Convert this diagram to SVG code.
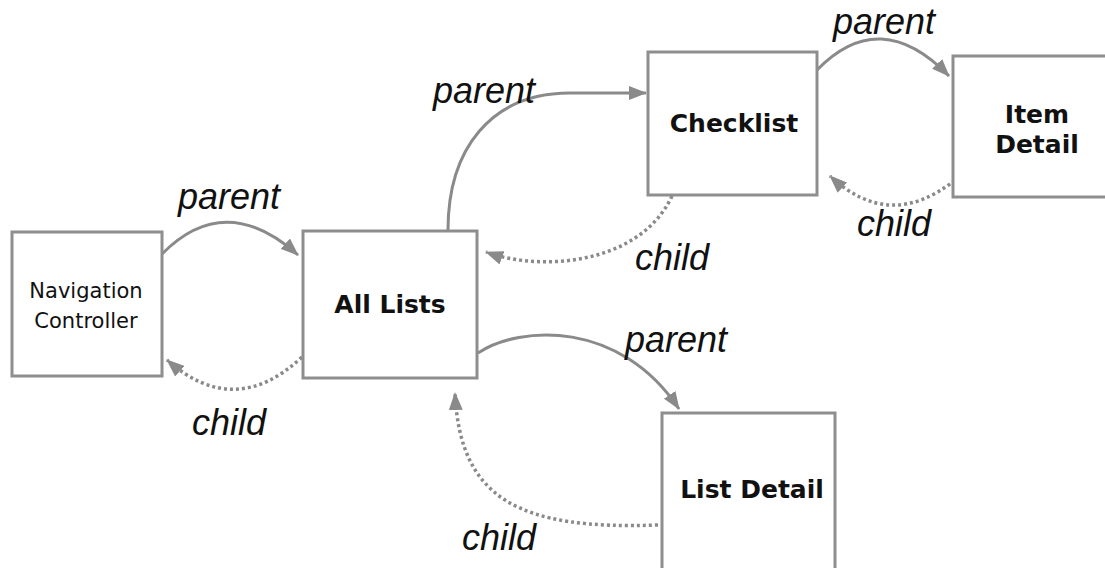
<svg xmlns="http://www.w3.org/2000/svg" width="1105" height="568" viewBox="0 0 1105 568">
<style>
.box{fill:#ffffff;stroke:#8e8e8e;stroke-width:3}
.nt{font-family:"DejaVu Sans","Verdana",sans-serif;fill:#111;text-anchor:middle}
.b{font-weight:bold;font-size:25px}
.r{font-size:21px}
.lbl{font-family:"Liberation Sans",Arial,sans-serif;font-style:italic;font-size:36px;fill:#111}
.par{fill:none;stroke:#8a8a8a;stroke-width:3;marker-end:url(#ah)}
.chd{fill:none;stroke:#8a8a8a;stroke-width:3.5;stroke-dasharray:3 3;marker-end:url(#ah)}
</style>
<defs>
<marker id="ah" viewBox="0 0 18 14" refX="17" refY="7" markerWidth="18" markerHeight="14" markerUnits="userSpaceOnUse" orient="auto">
<path d="M0,0 L18,7 L0,14 Z" fill="#8a8a8a"/>
</marker>
</defs>
<rect width="1105" height="568" fill="#ffffff"/>
<g id="connectors">
<path class="par" d="M162,254 Q225,190 298,255"/>
<path class="chd" d="M302,357 Q235,420 167,360"/>
<path class="par" d="M448,230 C448,150 490,93 570,93 L646,93"/>
<path class="chd" d="M672,196 C640,265 540,272 486,252"/>
<path class="par" d="M817,70 Q880,5 949,76"/>
<path class="chd" d="M955,180 Q890,232 830,176"/>
<path class="par" d="M478,353 C520,325 620,320 679,409"/>
<path class="chd" d="M658,525 C520,530 460,500 455,393"/>
</g>
<g id="labels">
<text class="lbl" x="178" y="209">parent</text>
<text class="lbl" x="192" y="435">child</text>
<text class="lbl" x="433" y="103">parent</text>
<text class="lbl" x="635" y="270">child</text>
<text class="lbl" x="833" y="34">parent</text>
<text class="lbl" x="857" y="236">child</text>
<text class="lbl" x="625" y="352">parent</text>
<text class="lbl" x="462" y="550">child</text>
</g>
<g id="nav">
<rect class="box" x="12" y="232" width="150" height="144"/>
<text class="nt r" x="86" y="298">Navigation</text>
<text class="nt r" x="86" y="328">Controller</text>
</g>
<g id="alllists">
<rect class="box" x="303" y="231" width="174" height="147"/>
<text class="nt b" x="390" y="313">All Lists</text>
</g>
<g id="checklist">
<rect class="box" x="648" y="52" width="169" height="143"/>
<text class="nt b" x="734" y="132">Checklist</text>
</g>
<g id="itemdetail">
<rect class="box" x="953" y="56" width="200" height="141"/>
<text class="nt b" x="1037" y="123">Item</text>
<text class="nt b" x="1037" y="153">Detail</text>
</g>
<g id="listdetail">
<rect class="box" x="662" y="413" width="173" height="170"/>
<text class="nt b" x="752" y="498">List Detail</text>
</g>
</svg>
